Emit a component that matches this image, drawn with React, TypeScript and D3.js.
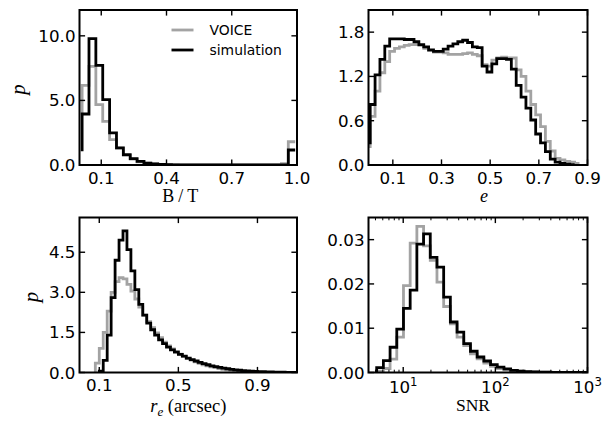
import React from 'react';
import * as d3 from 'd3';

// ---------------- data ----------------
// B/T histogram (bin start, bin width, value at start edge, bin values)
const btStart = 0.012;
const btBin = 0.0316;
const btVoiceFirst = 3.9;
const btVoice = [6.17, 7.64, 4.67, 3.38, 1.96, 1.3, 0.75, 0.45, 0.25, 0.15, 0.08, 0.05, 0.03, 0.02, 0.01, 0.01, 0.005, 0, 0, 0, 0, 0, 0, 0, 0, 0, 0, 0, 0, 0.1, 1.8];
const btSimFirst = 1.06;
const btSim = [3.95, 9.78, 7.71, 5.06, 2.48, 1.32, 0.8, 0.49, 0.28, 0.15, 0.08, 0.04, 0.02, 0.01, 0.01, 0, 0, 0, 0, 0, 0, 0, 0, 0, 0, 0, 0, 0, 0, 0, 1.16];

// ellipticity e
const eStart = 0.007;
const eBin = 0.02;
const eVoiceFirst = 0.23;
const eVoice = [0.66, 1.0, 1.25, 1.4, 1.54, 1.58, 1.6, 1.62, 1.63, 1.63, 1.62, 1.58, 1.55, 1.53, 1.53, 1.52, 1.5, 1.5, 1.5, 1.51, 1.52, 1.5, 1.48, 1.36, 1.34, 1.42, 1.45, 1.46, 1.45, 1.45, 1.29, 1.2, 1.0, 0.82, 0.68, 0.52, 0.32, 0.19, 0.09, 0.07, 0.05, 0.04, 0.02];
const eSimFirst = 0.28;
const eSim = [0.82, 1.22, 1.43, 1.61, 1.71, 1.71, 1.71, 1.7, 1.7, 1.67, 1.63, 1.6, 1.56, 1.54, 1.54, 1.57, 1.61, 1.64, 1.67, 1.69, 1.66, 1.6, 1.59, 1.34, 1.26, 1.37, 1.44, 1.44, 1.43, 1.3, 1.08, 0.92, 0.77, 0.61, 0.42, 0.3, 0.18, 0.08, 0.04, 0.02, 0.01, 0.005];

// effective radius r_e (arcsec)
const reBin = 0.02;
const reVoiceStart = 0.08;
const reVoiceFirst = 0;
const reVoice = [0.35, 0.9, 1.5, 2.3, 3.0, 3.4, 3.55, 3.5, 3.3, 3.05, 2.75, 2.45, 2.15, 1.9, 1.68, 1.48, 1.3, 1.14, 1.0, 0.88, 0.78, 0.69, 0.6, 0.52, 0.46, 0.4, 0.34, 0.29, 0.25, 0.21, 0.18, 0.15, 0.12, 0.1, 0.08, 0.065, 0.05, 0.04, 0.03, 0.02, 0.015, 0.01, 0.005, 0.003, 0, 0, 0, 0, 0, 0, 0];
const reSimStart = 0.1;
const reSimFirst = 0;
const reSim = [0.05, 0.45, 1.4, 2.8, 4.2, 4.95, 5.3, 4.6, 3.8, 3.1, 2.55, 2.15, 1.85, 1.6, 1.4, 1.22, 1.08, 0.95, 0.85, 0.76, 0.68, 0.61, 0.54, 0.48, 0.43, 0.38, 0.33, 0.29, 0.25, 0.22, 0.19, 0.16, 0.14, 0.12, 0.1, 0.085, 0.07, 0.06, 0.05, 0.04, 0.035, 0.03, 0.025, 0.02, 0.015, 0.012, 0.01, 0.008, 0.006, 0.005];

// SNR (log-spaced bins, in dex)
const snrStartDex = 0.712;
const snrBinDex = 0.0727;
const snrVoiceFirst = 0;
const snrVoice = [0.0003, 0.0009, 0.003, 0.008, 0.0196, 0.0292, 0.033, 0.0286, 0.0253, 0.0204, 0.0149, 0.011, 0.008, 0.0061, 0.0042, 0.0031, 0.0021, 0.0014, 0.0009, 0.0006, 0.0004, 0.0003, 0.0002, 0.00015, 0.0001, 0.00006, 0.00004, 0.00002, 0.00001, 0];
const snrSimFirst = 0;
const snrSim = [0.0011, 0.0027, 0.0057, 0.0098, 0.0145, 0.0186, 0.029, 0.0313, 0.026, 0.0238, 0.017, 0.0114, 0.0091, 0.0065, 0.0048, 0.0035, 0.0026, 0.0018, 0.0012, 0.0008, 0.0005, 0.0003, 0.0002, 0.00015, 0.0001, 0.00006, 0.00004, 0.00002, 0.00001, 0, 0, 0];

// ticks
const btXTicks = [0.1, 0.4, 0.7, 1.0];
const btYTicks = [0, 5, 10];
const eXTicks = [0.1, 0.3, 0.5, 0.7, 0.9];
const eYTicks = [0, 0.6, 1.2, 1.8];
const reXTicks = [0.1, 0.5, 0.9];
const reYTicks = [0, 1.5, 3.0, 4.5];
const snrXTicks = [10, 100, 1000];
const snrYTicks = [0, 0.01, 0.02, 0.03];
const legendLabels = ['VOICE', 'simulation'];

// ---------------- style ----------------
const GRAY = '#a3a3a3';
const BLACK = '#000000';
const SANS = '"DejaVu Sans", sans-serif';
const SERIF = '"Liberation Serif", "DejaVu Serif", serif';
const TICK_FS = 16.7;

type Series = { start: number; bin: number; first: number; values: number[]; log?: boolean; color: string };

function stepPoints(s: Series): [number, number][] {
  const edge = (k: number) => (s.log ? Math.pow(10, s.start + k * s.bin) : s.start + k * s.bin);
  const pts: [number, number][] = [[edge(0), s.first]];
  s.values.forEach((v, i) => pts.push([edge(i + 1), v]));
  return pts;
}

type PanelProps = {
  id: string;
  x0: number; y0: number; w: number; h: number;
  xScale: any; yScale: any;
  xTicks: number[]; yTicks: number[];
  xFmt?: (v: number) => string;
  yFmt: (v: number) => string;
  series: Series[];
  xlabel: React.ReactNode;
  ylabel?: { x: number };
  minorX?: number[];
  logLabels?: boolean;
  legend?: boolean;
};

function Panel(p: PanelProps) {
  const { x0, y0, w, h, xScale, yScale } = p;
  const line = d3.line<[number, number]>()
    .x((d) => xScale(d[0]))
    .y((d) => yScale(d[1]))
    .curve(d3.curveStepBefore);
  const major = 5.6;
  const minor = 2.8;
  return (
    <g>
      <defs>
        <clipPath id={p.id}>
          <rect x={x0} y={y0} width={w} height={h} />
        </clipPath>
      </defs>
      <g clipPath={`url(#${p.id})`}>
        {p.series.map((s, i) => (
          <path key={i} d={line(stepPoints(s)) || ''} fill="none" stroke={s.color} strokeWidth={2.8} strokeLinejoin="miter" />
        ))}
      </g>
      {p.xTicks.map((t, i) => {
        const x = xScale(t);
        return (
          <g key={'xt' + i}>
            <line x1={x} x2={x} y1={y0 + h} y2={y0 + h - major} stroke="#000" strokeWidth={1.4} />
            <line x1={x} x2={x} y1={y0} y2={y0 + major} stroke="#000" strokeWidth={1.4} />
            {p.logLabels ? (
              <text x={x} y={y0 + h + 20.5} textAnchor="middle" fontFamily={SANS} fontSize={TICK_FS}>
                10<tspan fontSize={11.7} dy={-7}>{Math.round(Math.log10(t))}</tspan>
              </text>
            ) : (
              <text x={x} y={y0 + h + 18.5} textAnchor="middle" fontFamily={SANS} fontSize={TICK_FS}>
                {p.xFmt ? p.xFmt(t) : t}
              </text>
            )}
          </g>
        );
      })}
      {(p.minorX || []).map((t, i) => {
        const x = xScale(t);
        return (
          <g key={'mx' + i}>
            <line x1={x} x2={x} y1={y0 + h} y2={y0 + h - minor} stroke="#000" strokeWidth={1} />
            <line x1={x} x2={x} y1={y0} y2={y0 + minor} stroke="#000" strokeWidth={1} />
          </g>
        );
      })}
      {p.yTicks.map((t, i) => {
        const y = yScale(t);
        return (
          <g key={'yt' + i}>
            <line x1={x0} x2={x0 + major} y1={y} y2={y} stroke="#000" strokeWidth={1.4} />
            <line x1={x0 + w} x2={x0 + w - major} y1={y} y2={y} stroke="#000" strokeWidth={1.4} />
            <text x={x0 - 4} y={y} dy="0.36em" textAnchor="end" fontFamily={SANS} fontSize={TICK_FS}>
              {p.yFmt(t)}
            </text>
          </g>
        );
      })}
      <rect x={x0} y={y0} width={w} height={h} fill="none" stroke="#000" strokeWidth={2} />
      {p.xlabel}
      {p.ylabel && (
        <text
          transform={`translate(${p.ylabel.x},${y0 + h / 2 + 2}) rotate(-90)`}
          textAnchor="middle"
          fontFamily={SERIF}
          fontStyle="italic"
          fontSize={21}
        >
          p
        </text>
      )}
      {p.legend && (
        <g>
          <line x1={x0 + 92} x2={x0 + 114} y1={y0 + 20} y2={y0 + 20} stroke={GRAY} strokeWidth={2.8} />
          <text x={x0 + 130} y={y0 + 25} fontFamily={SANS} fontSize={13.9}>{legendLabels[0]}</text>
          <line x1={x0 + 92} x2={x0 + 114} y1={y0 + 40} y2={y0 + 40} stroke={BLACK} strokeWidth={2.8} />
          <text x={x0 + 130} y={y0 + 45} fontFamily={SANS} fontSize={13.9}>{legendLabels[1]}</text>
        </g>
      )}
    </g>
  );
}

export default function App() {
  const L1 = 79.5, L2 = 368.5, T1 = 10, T2 = 217.5, W1 = 217.5, W2 = 219, PH = 155;

  const bx = d3.scaleLinear().domain([0, 1]).range([L1, L1 + W1]);
  const by = d3.scaleLinear().domain([0, 12]).range([T1 + PH, T1]);
  const ex = d3.scaleLinear().domain([0, 0.9]).range([L2, L2 + W2]);
  const ey = d3.scaleLinear().domain([0, 2.1]).range([T1 + PH, T1]);
  const rx = d3.scaleLinear().domain([0, 1.1]).range([L1, L1 + W1]);
  const ry = d3.scaleLinear().domain([0, 5.8]).range([T2 + PH, T2]);
  const sx = d3.scaleLog().domain([4.2, 1000]).range([L2, L2 + W2]);
  const sy = d3.scaleLinear().domain([0, 0.035]).range([T2 + PH, T2]);

  const minorSnr: number[] = [];
  [1, 10, 100].forEach((dec) => {
    for (let m = 2; m <= 9; m++) {
      const v = dec * m;
      if (v > 4.2 && v < 1000) minorSnr.push(v);
    }
  });

  const f1 = d3.format('.1f');
  const f2 = d3.format('.2f');

  return (
    <svg width={616} height={422} style={{ position: 'absolute', left: 0, top: 0, background: '#fff' }}>
      <rect x={0} y={0} width={616} height={422} fill="#fff" />
      <Panel
        id="c1" x0={L1} y0={T1} w={W1} h={PH} xScale={bx} yScale={by}
        xTicks={btXTicks} yTicks={btYTicks} xFmt={f1} yFmt={f1}
        series={[
          { start: btStart, bin: btBin, first: btVoiceFirst, values: btVoice, color: GRAY },
          { start: btStart, bin: btBin, first: btSimFirst, values: btSim, color: BLACK },
        ]}
        xlabel={<text x={L1 + W1 / 2 - 6} y={T1 + PH + 37} textAnchor="middle" fontFamily={SERIF} fontSize={18} letterSpacing={4}>B/T</text>}
        ylabel={{ x: 25 }}
        legend
      />
      <Panel
        id="c2" x0={L2} y0={T1} w={W2} h={PH} xScale={ex} yScale={ey}
        xTicks={eXTicks} yTicks={eYTicks} xFmt={f1} yFmt={f1}
        series={[
          { start: eStart, bin: eBin, first: eVoiceFirst, values: eVoice, color: GRAY },
          { start: eStart, bin: eBin, first: eSimFirst, values: eSim, color: BLACK },
        ]}
        xlabel={<text x={L2 + W2 / 2 + 6} y={T1 + PH + 37} textAnchor="middle" fontFamily={SERIF} fontStyle="italic" fontSize={18}>e</text>}
      />
      <Panel
        id="c3" x0={L1} y0={T2} w={W1} h={PH} xScale={rx} yScale={ry}
        xTicks={reXTicks} yTicks={reYTicks} xFmt={f1} yFmt={f1}
        series={[
          { start: reVoiceStart, bin: reBin, first: reVoiceFirst, values: reVoice, color: GRAY },
          { start: reSimStart, bin: reBin, first: reSimFirst, values: reSim, color: BLACK },
        ]}
        xlabel={
          <text x={L1 + W1 / 2} y={T2 + PH + 39} textAnchor="middle" fontFamily={SERIF} fontSize={18.5}>
            <tspan fontStyle="italic">r</tspan>
            <tspan fontStyle="italic" fontSize={13} dy={4}>e</tspan>
            <tspan dy={-4}> (arcsec)</tspan>
          </text>
        }
        ylabel={{ x: 38 }}
      />
      <Panel
        id="c4" x0={L2} y0={T2} w={W2} h={PH} xScale={sx} yScale={sy}
        xTicks={snrXTicks} yTicks={snrYTicks} yFmt={f2} minorX={minorSnr} logLabels
        series={[
          { start: snrStartDex, bin: snrBinDex, first: snrVoiceFirst, values: snrVoice, log: true, color: GRAY },
          { start: snrStartDex, bin: snrBinDex, first: snrSimFirst, values: snrSim, log: true, color: BLACK },
        ]}
        xlabel={<text x={L2 + W2 / 2 - 5} y={T2 + PH + 38} textAnchor="middle" fontFamily={SERIF} fontSize={17.5}>SNR</text>}
      />
    </svg>
  );
}
